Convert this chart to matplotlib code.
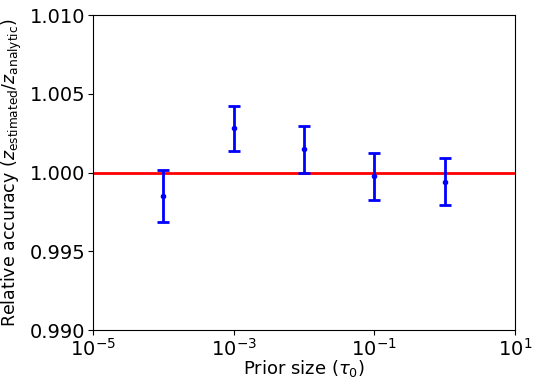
import matplotlib
matplotlib.use('Agg')
import matplotlib.pyplot as plt

prior_size = [1e-4, 1e-3, 1e-2, 1e-1, 1e0]
ratio = [0.99851, 1.00281, 1.00148, 0.99976, 0.99942]
ratio_err = [0.00166, 0.00143, 0.00150, 0.00149, 0.00150]

plt.rcParams['font.size'] = 14

fig, ax = plt.subplots(figsize=(5.4, 3.87), dpi=100)
ax.axhline(1.0, color='red', lw=2)
ax.errorbar(prior_size, ratio, yerr=ratio_err, fmt='.', color='blue',
            elinewidth=2, capsize=4, capthick=2)
ax.set_xscale('log')
ax.set_xlim(1e-5, 1e1)
ax.set_ylim(0.990, 1.010)
ax.set_xticks([1e-5, 1e-3, 1e-1, 1e1])
ax.minorticks_off()
ax.set_yticks([0.990, 0.995, 1.000, 1.005, 1.010])
ax.tick_params(labelsize=14, pad=2)
ax.set_xlabel(r'Prior size ($\tau_0$)', fontsize=13, labelpad=-1)
ax.set_ylabel(r'Relative accuracy ($z_{\rm estimated}/z_{\rm analytic}$)', fontsize=12.5, labelpad=4)
fig.subplots_adjust(left=0.172, right=0.954, top=0.961, bottom=0.147)
fig.savefig('out.png')
